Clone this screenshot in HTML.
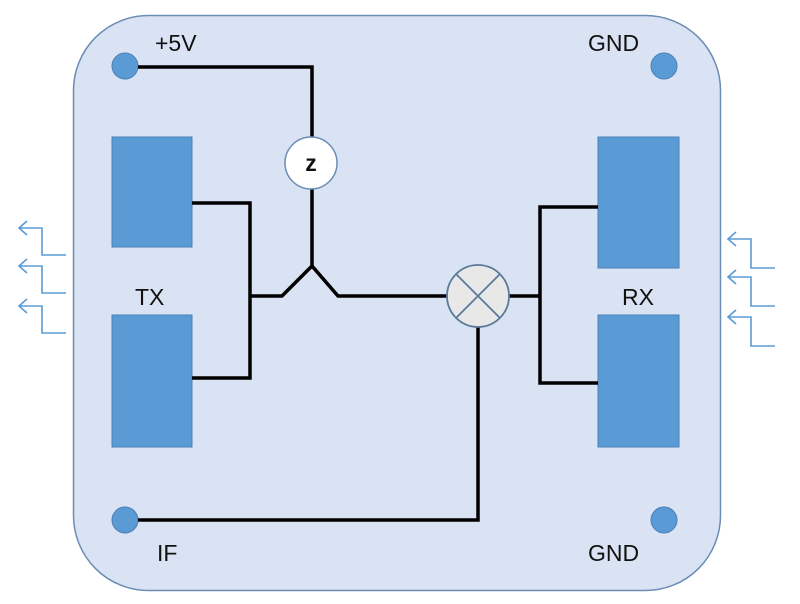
<!DOCTYPE html>
<html><head><meta charset="utf-8"><style>
html,body{margin:0;padding:0;background:#fff;width:800px;height:604px;overflow:hidden}
svg{display:block}
text{font-family:"Liberation Sans",sans-serif;font-size:23px;fill:#111}
</style></head><body>
<svg width="800" height="604" viewBox="0 0 800 604" xmlns="http://www.w3.org/2000/svg">
<rect x="73.5" y="15.5" width="647" height="575" rx="75" ry="75" fill="#dae3f3" stroke="#6a8cb5" stroke-width="1.5"/>
<g fill="none" stroke="#5b9bd5" stroke-width="1.6">
<path d="M66 255H42V228H19M27 221L19 228L27 235"/>
<path d="M66 293H42V266H19M27 259L19 266L27 273"/>
<path d="M66 333H42V306H19M27 299L19 306L27 313"/>
<path d="M775 268H751V239H728M736 232L728 239L736 246"/>
<path d="M775 306H751V277H728M736 270L728 277L736 284"/>
<path d="M775 346H751V317H728M736 310L728 317L736 324"/>
</g>
<g fill="#5b9bd5" stroke="#4a7fb5" stroke-width="1">
<rect x="112" y="137" width="80" height="110"/>
<rect x="112" y="315" width="80" height="132"/>
<rect x="598" y="137" width="81" height="131"/>
<rect x="598" y="315" width="81" height="132"/>
<circle cx="125" cy="66" r="13"/>
<circle cx="664" cy="66" r="13"/>
<circle cx="125" cy="520" r="13"/>
<circle cx="664" cy="520" r="13"/>
</g>
<g fill="none" stroke="#000" stroke-width="3.5">
<path d="M138 67H312V137"/>
<path d="M312 189V268"/>
<path d="M192 203H250V378H192"/>
<path d="M250 296H282L312 266L338 296H448"/>
<path d="M509 296H540"/>
<path d="M598 207H540V383H598"/>
<path d="M478 327V520H138"/>
</g>
<circle cx="311" cy="163" r="26" fill="#fff" stroke="#6a8cb5" stroke-width="1.5"/>
<text x="311" y="171" text-anchor="middle" font-size="22" font-weight="bold">z</text>
<circle cx="478" cy="296" r="31" fill="#e8e8e8" stroke="#5a7a9a" stroke-width="1.8"/>
<path d="M456 274L500 318M500 274L456 318" stroke="#5a7a9a" stroke-width="1.8"/>
<text x="155" y="51">+5V</text>
<text x="588" y="51">GND</text>
<text x="157" y="561">IF</text>
<text x="588" y="561">GND</text>
<text x="135" y="305">TX</text>
<text x="622" y="305">RX</text>
</svg>
</body></html>
